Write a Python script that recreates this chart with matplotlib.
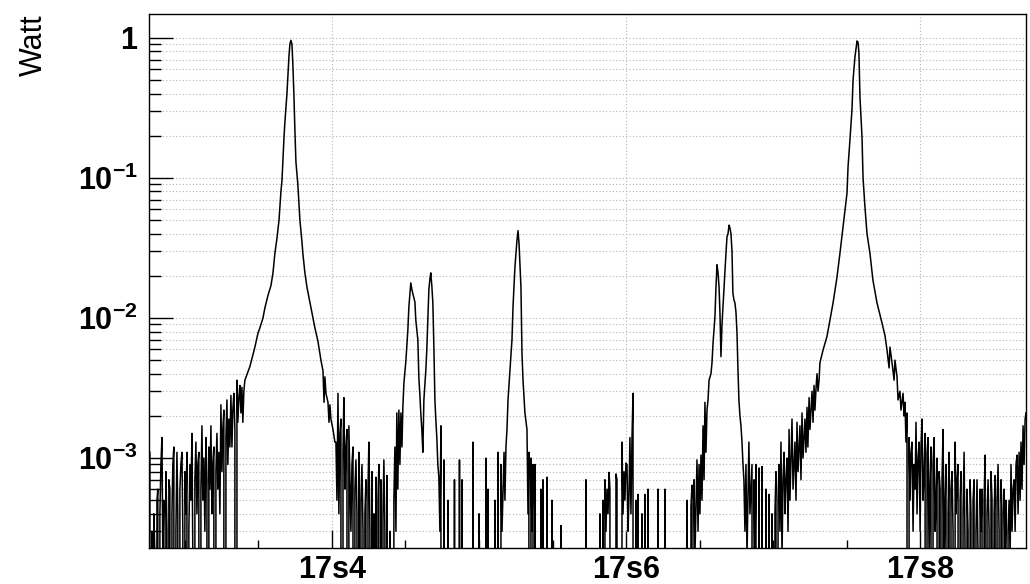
#!/usr/bin/env python3
"""Power trace (Watt) on a log axis, ROOT-style look."""

import matplotlib
matplotlib.use('Agg')
import matplotlib.pyplot as plt
from matplotlib.ticker import FixedLocator, LogLocator, NullFormatter, MultipleLocator
import numpy as np

plt.rcParams['font.family'] = ['Liberation Sans', 'DejaVu Sans']
plt.rcParams['mathtext.fontset'] = 'custom'
plt.rcParams['mathtext.rm'] = 'Liberation Sans:bold'
plt.rcParams['mathtext.bf'] = 'Liberation Sans:bold'

# time in ms after 17 s, power in Watt (0 = empty bin)
lead = [
    (276.2, 0.0011), (276.9, 0), (277.6, 0.0003), (278.2, 0), (278.9, 0.0004), (279.6, 0.0002),
    (280.3, 0), (281.0, 0.0005), (281.6, 0.0006), (282.3, 0), (283.0, 0.0004), (283.7, 0.0009),
    (284.4, 0.0014), (285.0, 0.0002), (285.7, 0.0005), (286.4, 0), (287.1, 0.0008), (287.8, 0.0003),
    (288.4, 0), (289.1, 0.0007), (289.8, 0.0006), (290.5, 0), (291.2, 0.0004), (291.8, 0.0009),
    (292.5, 0.0012), (293.2, 0), (293.9, 0.0003), (294.6, 0.0011), (295.2, 0.0004), (295.9, 0),
    (296.6, 0.0006), (297.3, 0.0009), (298.0, 0.0011), (298.6, 0.0003), (299.3, 0), (300.0, 0.0008),
    (300.7, 0.0004), (301.4, 0.0011), (302.0, 0), (302.7, 0.0003), (303.4, 0.0009), (304.1, 0.0005),
    (304.8, 0.0015), (305.4, 0.0002), (306.1, 0), (306.8, 0.0007), (307.5, 0.0013), (308.2, 0.0004),
    (308.8, 0.0009), (309.5, 0.0011), (310.2, 0), (310.9, 0.0006), (311.6, 0.0017), (312.2, 0.0005),
    (312.9, 0.0010), (313.6, 0.0003), (314.3, 0.0014), (315.0, 0.0007), (315.6, 0), (316.3, 0.0012),
    (317.0, 0.0006), (317.7, 0.0017), (318.4, 0.0004), (319.0, 0.0009), (319.7, 0.0012), (320.4, 0),
    (321.1, 0.0008), (321.8, 0.0015), (322.4, 0.0006), (323.1, 0.0011), (323.8, 0.0004),
    (324.5, 0.0024), (325.2, 0.0008), (325.8, 0.0016), (326.5, 0.0022), (327.2, 0), (327.9, 0.0014),
    (328.6, 0.0026), (329.2, 0.0009), (329.9, 0.0019), (330.6, 0.0012), (331.3, 0.0028),
    (332.0, 0.0012), (332.6, 0.0022), (333.3, 0.0029), (334.0, 0.0016), (334.7, 0), (335.4, 0.0036),
    (336.0, 0.0018), (336.7, 0.0027), (337.4, 0.0033), (338.1, 0.0021), (338.8, 0.0032),
    (339.4, 0.0018), (340.1, 0.0030), (340.8, 0.0036),
]

peak_a = [
    (344.2, 0.0045), (346.3, 0.0055), (347.6, 0.0062), (349.7, 0.0078), (351.0, 0.0085),
    (353.1, 0.010), (354.4, 0.0118), (356.5, 0.0145), (358.5, 0.017), (359.9, 0.021),
    (361.2, 0.029), (362.6, 0.037), (364.0, 0.050), (365.3, 0.080), (366.0, 0.095),
    (367.4, 0.196), (368.0, 0.25), (369.4, 0.40), (370.8, 0.75), (371.4, 0.90), (372.1, 0.96),
    (372.8, 0.90), (373.4, 0.65), (374.1, 0.40), (374.8, 0.22), (375.5, 0.13), (376.8, 0.09),
    (378.2, 0.05), (379.6, 0.035), (380.2, 0.029), (381.6, 0.021), (383.0, 0.0166),
    (385.0, 0.013), (386.4, 0.0109), (388.4, 0.0085), (390.5, 0.0068), (392.5, 0.0050),
    (393.9, 0.0042), (394.6, 0.0025), (395.2, 0.0038), (395.9, 0.0029), (397.3, 0.0025),
    (398.0, 0.0018), (398.6, 0.0024), (399.3, 0.0019), (400.7, 0.0016), (402.0, 0.0013),
]

tail_a = [
    (402.7, 0.0013), (403.4, 0.0005), (404.1, 0.0029), (404.7, 0.0004), (405.4, 0.0015),
    (406.1, 0.0019), (406.8, 0), (407.5, 0.0011), (408.1, 0.0027), (408.8, 0.0006),
    (409.5, 0.0012), (410.2, 0.0016), (410.9, 0), (411.5, 0.0017), (412.2, 0.0007),
    (412.9, 0.0003), (413.6, 0.0009), (414.3, 0.0012), (414.9, 0), (415.6, 0.0006),
    (416.3, 0.00097), (417.0, 0.0004), (417.7, 0), (418.3, 0.0011), (419.0, 0), (419.7, 0.0005),
    (420.4, 0.0009), (421.1, 0.0003), (421.7, 0), (422.4, 0.0004), (423.1, 0.0007), (423.8, 0),
    (424.5, 0.0006), (425.1, 0.0013), (425.8, 0.0003), (426.5, 0), (427.2, 0.0008), (427.9, 0),
    (428.5, 0.0004), (429.2, 0), (429.9, 0.00073), (430.6, 0), (431.3, 0.0005), (431.9, 0.0009),
    (432.6, 0), (433.3, 0.0007), (434.0, 0), (434.7, 0.0004), (435.3, 0.00097), (436.0, 0.0003),
    (436.7, 0), (437.4, 0.00075), (438.1, 0), (438.7, 0), (439.4, 0.0003), (440.1, 0),
    (441.4, 0), (442.1, 0.0005), (442.8, 0.0012), (443.5, 0.0003), (444.1, 0.0021),
    (444.8, 0.0006), (445.5, 0.0022), (446.2, 0.0009), (446.9, 0.0021), (447.6, 0.0012),
]

double_peak = [
    (448.2, 0.0023), (448.9, 0.0034), (450.3, 0.005), (451.6, 0.0082), (452.3, 0.012),
    (453.0, 0.015), (453.6, 0.0178), (454.3, 0.016), (455.7, 0.014), (456.4, 0.013),
    (457.0, 0.0097), (458.4, 0.007), (459.1, 0.0037), (459.8, 0.0028), (460.4, 0.0021),
    (461.1, 0.0016), (461.8, 0.0011), (462.5, 0.0026), (463.8, 0.0042), (464.5, 0.006),
    (465.2, 0.0097), (465.9, 0.016), (466.6, 0.019), (467.2, 0.021), (467.9, 0.017),
    (468.6, 0.0128), (469.3, 0.0062), (470.0, 0.0026), (470.6, 0.0019), (471.3, 0.0014),
    (472.0, 0.0009), (472.7, 0.00073),
]

gap_b = [
    (473.4, 0.0003), (474.1, 0.0017), (474.8, 0), (476.2, 0.00097), (476.8, 0), (478.2, 0),
    (478.9, 0.0005), (479.6, 0), (482.6, 0), (483.3, 0.0007), (484.0, 0), (486.0, 0),
    (486.7, 0.00097), (487.4, 0), (488.4, 0.0007), (489.1, 0), (495.2, 0), (495.9, 0.0013),
    (496.6, 0), (499.3, 0), (500.0, 0.0004), (500.6, 0), (504.0, 0), (504.7, 0.001), (505.4, 0),
    (506.1, 0.0006), (506.8, 0), (510.1, 0), (510.8, 0.0005), (511.5, 0), (512.9, 0.0011),
    (513.6, 0), (514.9, 0.0009), (515.6, 0.0003), (517.0, 0.0011), (517.6, 0.0005),
]

peak_c = [
    (518.3, 0.0012), (519.0, 0.0016), (519.7, 0.0026), (521.0, 0.0042), (522.4, 0.007),
    (523.1, 0.012), (524.4, 0.023), (525.8, 0.036), (526.5, 0.042), (527.2, 0.034),
    (528.5, 0.0166), (529.2, 0.0056), (529.9, 0.0036), (531.2, 0.0021), (532.6, 0.0016),
]

gap_c = [
    (533.3, 0.0004), (533.9, 0.0011), (534.6, 0), (535.3, 0.001), (536.0, 0.0003),
    (536.7, 0.0009), (537.4, 0), (538.0, 0.0009), (538.7, 0), (541.4, 0), (542.1, 0.0006),
    (542.8, 0), (543.5, 0.0007), (544.2, 0), (545.5, 0), (546.2, 0.00073), (546.9, 0),
    (548.9, 0), (549.6, 0.0005), (550.2, 0), (555.0, 0), (555.7, 0.00033), (556.4, 0),
    (572.0, 0), (572.7, 0.0007), (573.4, 0), (581.5, 0), (582.2, 0.0004), (582.9, 0),
    (583.6, 0), (584.3, 0.0005), (585.0, 0), (585.6, 0.0007), (586.3, 0.0003), (587.0, 0.0006),
    (587.7, 0.0004), (588.4, 0.00079), (589.0, 0.0006), (589.7, 0), (592.4, 0), (593.1, 0.00077),
    (593.8, 0.0007), (594.5, 0), (596.5, 0), (597.2, 0.0013), (597.9, 0.0004), (598.6, 0.0008),
    (599.2, 0.0005), (599.9, 0.00092), (600.6, 0.0009), (601.3, 0.0003), (601.9, 0.0005),
    (602.6, 0.0014), (603.3, 0.0004), (604.0, 0.0014), (604.7, 0.0029), (605.4, 0), (606.0, 0),
    (606.7, 0.0005), (607.4, 0), (608.1, 0.00055), (608.8, 0), (610.1, 0), (610.8, 0.0004),
    (611.5, 0), (612.1, 0), (612.8, 0.00055), (613.5, 0), (614.2, 0), (614.9, 0.0006),
    (615.6, 0), (621.0, 0), (621.7, 0.0006), (622.4, 0), (625.7, 0), (626.4, 0.0006),
    (627.1, 0), (640.7, 0),
]

peak_d = [
    (641.4, 0.0005), (642.1, 0), (643.4, 0), (644.1, 0.00045), (644.8, 0.00064), (645.5, 0),
    (646.2, 0.0007), (646.8, 0.0002), (648.2, 0.00097), (648.9, 0.0003), (649.6, 0.0009),
    (650.2, 0.0004), (650.9, 0.00105), (651.6, 0.0005), (652.3, 0.0017), (653.0, 0.0007),
    (653.6, 0.0025), (654.3, 0.0011), (655.0, 0.0022), (655.7, 0.0026), (656.4, 0.0036),
    (657.7, 0.0040), (658.4, 0.0048), (659.1, 0.0066), (660.4, 0.0102), (661.1, 0.0166),
    (661.8, 0.024), (662.5, 0.021), (663.2, 0.0166), (663.8, 0.011), (664.5, 0.0053),
    (665.2, 0.009), (666.6, 0.0166), (667.9, 0.029), (668.6, 0.038), (669.3, 0.040),
    (670.0, 0.046), (670.6, 0.044), (671.3, 0.040), (672.0, 0.030), (672.6, 0.0151),
    (673.3, 0.0135), (674.0, 0.0128), (674.7, 0.011), (675.4, 0.0078), (676.0, 0.0045),
    (676.7, 0.0026), (677.4, 0.0020), (678.1, 0.0017), (678.8, 0.0013), (679.4, 0.00093),
    (680.1, 0.0007),
]

tail_d = [
    (680.8, 0.0003), (681.5, 0.0009), (682.2, 0.0002), (683.5, 0.0013), (684.2, 0.0004),
    (685.6, 0.0009), (686.3, 0), (687.0, 0.0007), (687.6, 0.0002), (688.3, 0.0009), (689.0, 0),
    (690.4, 0.00085), (691.0, 0), (692.4, 0.00087), (693.1, 0), (694.4, 0), (695.1, 0.0006),
    (695.8, 0), (696.5, 0), (697.2, 0.00055), (697.8, 0), (698.5, 0), (699.2, 0.0004),
    (699.9, 0), (701.2, 0.0004), (701.9, 0.0008), (702.6, 0), (703.3, 0.0005), (704.0, 0.0009),
    (704.6, 0.0003), (705.3, 0.0013), (706.0, 0.0002), (706.7, 0.0007), (707.4, 0.0011),
    (708.0, 0.0004), (708.7, 0.0007), (709.4, 0.0010), (710.1, 0.0003), (710.8, 0.0016),
    (711.4, 0.0005), (712.1, 0.0010), (712.8, 0.0019), (713.5, 0.0006), (714.2, 0.0009),
    (714.8, 0.0013), (715.5, 0.0005), (716.2, 0.0018), (716.9, 0.0008), (717.6, 0.0012),
    (718.2, 0.0017), (718.9, 0.0007), (719.6, 0.0021), (720.3, 0.0010), (721.0, 0.0014),
    (721.6, 0.0019), (722.3, 0.0011), (723.0, 0.0023), (723.6, 0.0012), (724.4, 0.0027),
    (725.0, 0.0016), (725.7, 0.0022), (726.4, 0.0030), (727.1, 0.0018), (727.8, 0.0033),
    (728.4, 0.0022), (729.1, 0.0031), (729.8, 0.0040), (730.5, 0.0030), (731.2, 0.0036),
    (731.8, 0.0048),
]

peak_e = [
    (733.9, 0.0059), (736.6, 0.0074), (738.6, 0.0097), (740.7, 0.0128), (743.4, 0.0196),
    (745.4, 0.029), (747.5, 0.045), (748.8, 0.06), (750.2, 0.078), (750.9, 0.12),
    (752.2, 0.187), (753.6, 0.31), (754.3, 0.50), (755.6, 0.73), (757.0, 0.95), (757.7, 0.93),
    (758.3, 0.78), (759.0, 0.38), (760.4, 0.196), (761.1, 0.10), (762.4, 0.062),
    (763.8, 0.040), (765.8, 0.029), (767.8, 0.0187), (770.6, 0.0128), (774.0, 0.0092),
    (776.0, 0.0075), (777.4, 0.0059), (778.8, 0.0044), (779.4, 0.0062), (780.8, 0.0048),
    (782.2, 0.0036), (782.8, 0.0050), (784.2, 0.0038), (784.9, 0.0026), (786.2, 0.0030),
    (786.9, 0.0022), (788.3, 0.0029), (789.0, 0.0020), (789.6, 0.0025), (790.3, 0.0013),
    (791.0, 0.0021),
]

tail_e = [
    (791.7, 0), (792.4, 0.0014), (793.1, 0.0005), (793.7, 0.0011), (794.4, 0.0013),
    (795.1, 0.0003), (795.8, 0.0009), (796.5, 0.0006), (797.1, 0.0018), (797.8, 0.0004),
    (798.5, 0.0010), (799.2, 0.0013), (799.9, 0.0003), (800.5, 0.0012), (801.2, 0.0019),
    (801.9, 0.0005), (802.6, 0.0008), (803.3, 0.0015), (803.9, 0), (804.6, 0.0011),
    (805.3, 0.0014), (806.0, 0.0002), (806.7, 0.0007), (807.3, 0.0012), (808.0, 0),
    (808.7, 0.0009), (809.4, 0.0014), (810.1, 0.0003), (810.7, 0.0005), (811.4, 0.0010),
    (812.1, 0), (812.8, 0.0008), (813.5, 0.0006), (814.1, 0), (814.8, 0.0007), (815.5, 0.0016),
    (816.2, 0.0002), (816.9, 0.0005), (817.5, 0.0009), (818.2, 0), (818.9, 0.0004),
    (819.6, 0.0011), (820.3, 0), (820.9, 0.0006), (821.6, 0.0008), (822.3, 0.0003), (823.0, 0),
    (823.7, 0.0013), (824.3, 0.0004), (825.0, 0.0007), (825.7, 0.0009), (826.4, 0),
    (827.1, 0.0005), (827.7, 0.0008), (828.4, 0), (829.1, 0.0004), (829.8, 0.0011),
    (830.5, 0.0002), (831.1, 0), (831.8, 0.0006), (832.5, 0.0003), (833.2, 0), (833.9, 0.0007),
    (834.5, 0.0004), (835.2, 0), (835.9, 0.0005), (836.6, 0.0007), (837.3, 0), (837.9, 0.0003),
    (838.6, 0.0007), (839.3, 0.0002), (840.0, 0), (840.7, 0.0006), (841.3, 0.0003),
    (842.0, 0.0006), (842.7, 0), (843.4, 0.0005), (844.1, 0.00105), (844.7, 0), (845.4, 0.0004),
    (846.1, 0.0007), (846.8, 0.0003), (847.5, 0), (848.1, 0.0008), (848.8, 0.0005), (849.5, 0),
    (850.2, 0.0004), (850.9, 0.00075), (851.5, 0), (852.2, 0.0005), (852.9, 0.0009),
    (853.6, 0.0003), (854.3, 0), (854.9, 0.0007), (855.6, 0.0004), (856.3, 0), (857.0, 0.0006),
    (857.7, 0.0002), (858.3, 0.0005), (859.0, 0), (859.7, 0.0003), (860.4, 0.0005),
    (861.1, 0.0002), (861.7, 0.0009), (862.4, 0.0003), (863.1, 0.0006), (863.8, 0.0007),
    (864.5, 0.0003), (865.1, 0.0009), (865.8, 0.00105), (866.5, 0.0004), (867.2, 0.0011),
    (867.9, 0.0005), (868.5, 0.0013), (869.2, 0.0006), (869.9, 0.0017), (870.6, 0.0009),
    (871.3, 0.0019), (871.9, 0.0021),
]

segments = [lead, peak_a, tail_a, double_peak, gap_b, peak_c, gap_c,
            peak_d, tail_d, peak_e, tail_e]

x_ticks = [17.4, 17.6, 17.8]
x_tick_labels = ['17s4', '17s6', '17s8']
y_ticks = [1e-3, 1e-2, 1e-1, 1]
y_tick_labels = [r'$10^{-3}$', r'$10^{-2}$', r'$10^{-1}$', r'$1$']

pts = np.array([p for seg in segments for p in seg])
t = 17 + pts[:, 0] / 1000.0
w = pts[:, 1]

fig = plt.figure(figsize=(10.30, 5.84), dpi=100)
ax = fig.add_axes([149 / 1030, 36 / 584, 877 / 1030, 534 / 584])

ax.plot(t, w, color='black', lw=1.1)

ax.set_yscale('log', nonpositive='clip')
ax.set_xlim(17.2756, 17.8719)
ax.set_ylim(2.28e-4, 1.48)

ax.xaxis.set_major_locator(FixedLocator(x_ticks))
ax.set_xticklabels(x_tick_labels, fontsize=22, fontweight='bold')
ax.xaxis.set_minor_locator(MultipleLocator(0.05))

ax.yaxis.set_major_locator(FixedLocator(y_ticks))
ax.set_yticklabels(y_tick_labels, fontsize=22)
ax.yaxis.set_minor_locator(LogLocator(base=10, subs=np.arange(2, 10)))
ax.yaxis.set_minor_formatter(NullFormatter())

ax.tick_params(axis='y', which='major', direction='in', length=17, width=1, pad=8)
ax.tick_params(axis='y', which='minor', direction='in', length=8.5, width=1)
ax.tick_params(axis='x', which='major', direction='in', length=13, width=1, pad=5)
ax.tick_params(axis='x', which='minor', direction='in', length=6, width=1)

grid_style = dict(color='#b4b4b4', linestyle=(0, (1, 2)), linewidth=0.8)
ax.grid(True, axis='y', which='both', **grid_style)
ax.grid(True, axis='x', which='major', **grid_style)
ax.set_axisbelow(True)

for spine in ax.spines.values():
    spine.set_color('black')
    spine.set_linewidth(1)

ax.text(-0.131, 1.0, 'Watt', transform=ax.transAxes, rotation=90,
        ha='center', va='top', fontsize=22)

fig.savefig('out.png', dpi=100, facecolor='white')
